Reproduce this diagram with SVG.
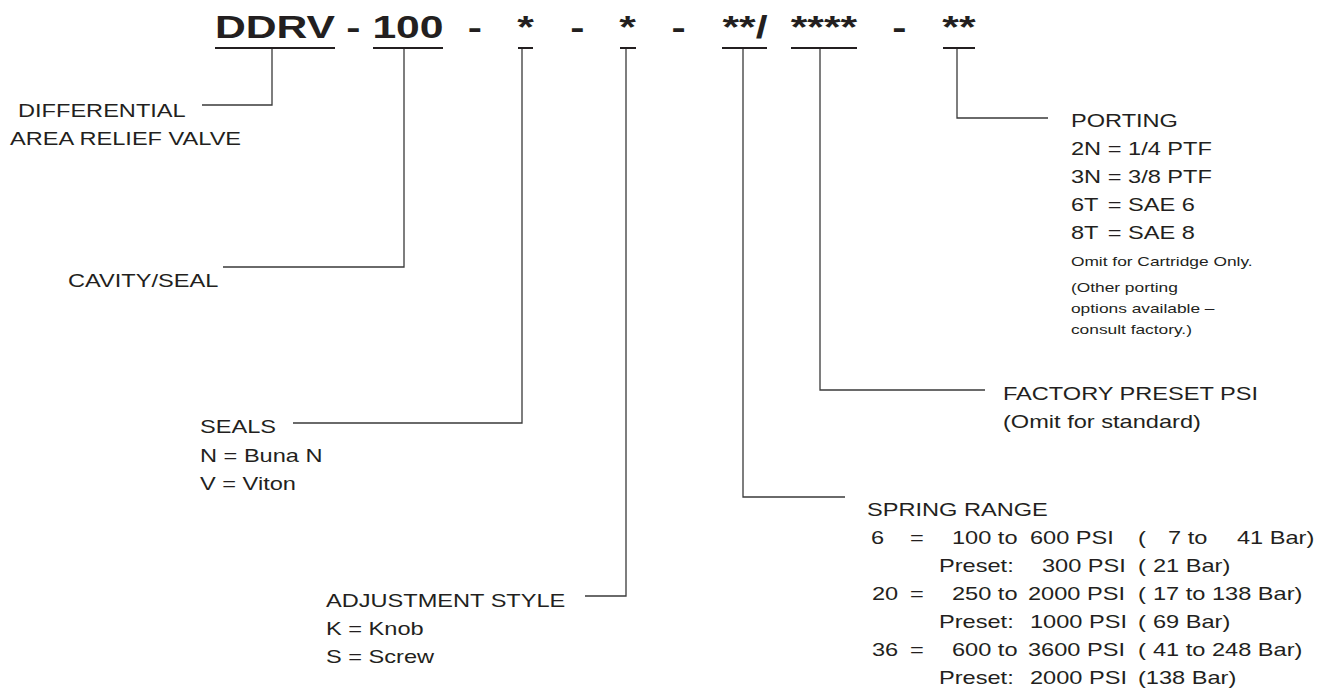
<svg xmlns="http://www.w3.org/2000/svg" width="1325" height="694" viewBox="0 0 1325 694">
<style>
text { font-family: "Liberation Sans", Arial, Helvetica, sans-serif; fill: #231f20; }
.code { font-size: 32px; font-weight: bold; text-anchor: middle; }
.t { font-size: 17.7px; }
.s { font-size: 13px; }
.ul { stroke: #231f20; stroke-width: 2; fill: none; }
.conn { stroke: #3a3a3a; stroke-width: 1.3; fill: none; }
</style>
<rect width="1325" height="694" fill="#ffffff"/>
<g id="connectors">
<polyline class="conn" points="272,48 272,105 202,105"/>
<polyline class="conn" points="404,48 404,267 223,267"/>
<polyline class="conn" points="522,48 522,423 293,423"/>
<polyline class="conn" points="626,48 626,596 585,596"/>
<polyline class="conn" points="743,48 743,497 845,497"/>
<polyline class="conn" points="820,48 820,390 985,390"/>
<polyline class="conn" points="957,48 957,118 1048,118"/>
</g>
<g id="model-code">
<g transform="scale(1.3333 1)">
<text class="code" x="206.25" y="38">DDRV</text>
<text class="code" x="265.1" y="38">-</text>
<text class="code" x="306" y="38">100</text>
<text class="code" x="356.25" y="38">-</text>
<text class="code" x="394.1" y="38">*</text>
<text class="code" x="433.1" y="38">-</text>
<text class="code" x="470.6" y="38">*</text>
<text class="code" x="508.9" y="38">-</text>
<text class="code" x="558.75" y="38">**/</text>
<text class="code" x="618" y="38">****</text>
<text class="code" x="674.6" y="38">-</text>
<text class="code" x="719.25" y="38">**</text>
</g>
<line class="ul" x1="215" y1="48" x2="335" y2="48"/>
<line class="ul" x1="373" y1="48" x2="443" y2="48"/>
<line class="ul" x1="518" y1="48" x2="533" y2="48"/>
<line class="ul" x1="620" y1="48" x2="636" y2="48"/>
<line class="ul" x1="722" y1="48" x2="767" y2="48"/>
<line class="ul" x1="791" y1="48" x2="857" y2="48"/>
<line class="ul" x1="943" y1="48" x2="975" y2="48"/>
</g>
<g transform="scale(1.3333 1)">
<g id="valve-type">
<text class="t" x="13.5" y="117">DIFFERENTIAL</text>
<text class="t" x="7.5" y="145">AREA RELIEF VALVE</text>
</g>
<g id="cavity-seal">
<text class="t" x="51" y="287">CAVITY/SEAL</text>
</g>
<g id="seals">
<text class="t" x="150" y="433">SEALS</text>
<text class="t" x="150" y="462">N = Buna N</text>
<text class="t" x="150" y="490">V = Viton</text>
</g>
<g id="adjustment-style">
<text class="t" x="244.5" y="607">ADJUSTMENT STYLE</text>
<text class="t" x="244.5" y="635">K = Knob</text>
<text class="t" x="244.5" y="663">S = Screw</text>
</g>
<g id="porting">
<text class="t" x="803.25" y="127">PORTING</text>
<text class="t" y="155"><tspan x="803.25">2N</tspan><tspan x="830.8">= 1/4 PTF</tspan></text>
<text class="t" y="183"><tspan x="803.25">3N</tspan><tspan x="830.8">= 3/8 PTF</tspan></text>
<text class="t" y="211"><tspan x="803.25">6T</tspan><tspan x="830.8">= SAE 6</tspan></text>
<text class="t" y="239"><tspan x="803.25">8T</tspan><tspan x="830.8">= SAE 8</tspan></text>
<text class="s" x="803.25" y="266">Omit for Cartridge Only.</text>
<text class="s" x="803.25" y="292">(Other porting</text>
<text class="s" x="803.25" y="313">options available –</text>
<text class="s" x="803.25" y="334">consult factory.)</text>
</g>
<g id="factory-preset">
<text class="t" x="752.25" y="400">FACTORY PRESET PSI</text>
<text class="t" x="752.25" y="428">(Omit for standard)</text>
</g>
<g id="spring-range">
<text class="t" x="650.25" y="516">SPRING RANGE</text>
<text class="t" y="544"><tspan x="653.25">6</tspan><tspan x="682.5">=</tspan><tspan x="714">100 to</tspan><tspan x="772.5">600 PSI</tspan><tspan x="853.5">(</tspan><tspan x="876">7 to</tspan><tspan x="927.75">41 Bar)</tspan></text>
<text class="t" y="572"><tspan x="704.25">Preset:</tspan><tspan x="781.5">300 PSI</tspan><tspan x="853.5">(</tspan><tspan x="864.75">21 Bar)</tspan></text>
<text class="t" y="600"><tspan x="654">20</tspan><tspan x="682.5">=</tspan><tspan x="714">250 to</tspan><tspan x="771">2000 PSI</tspan><tspan x="853.5">(</tspan><tspan x="864.75">17 to 138 Bar)</tspan></text>
<text class="t" y="628"><tspan x="704.25">Preset:</tspan><tspan x="772.5">1000 PSI</tspan><tspan x="853.5">(</tspan><tspan x="864.75">69 Bar)</tspan></text>
<text class="t" y="656"><tspan x="654">36</tspan><tspan x="682.5">=</tspan><tspan x="714">600 to</tspan><tspan x="771">3600 PSI</tspan><tspan x="853.5">(</tspan><tspan x="864.75">41 to 248 Bar)</tspan></text>
<text class="t" y="684"><tspan x="704.25">Preset:</tspan><tspan x="772.5">2000 PSI</tspan><tspan x="853.5">(138 Bar)</tspan></text>
</g>
</g>
</svg>
